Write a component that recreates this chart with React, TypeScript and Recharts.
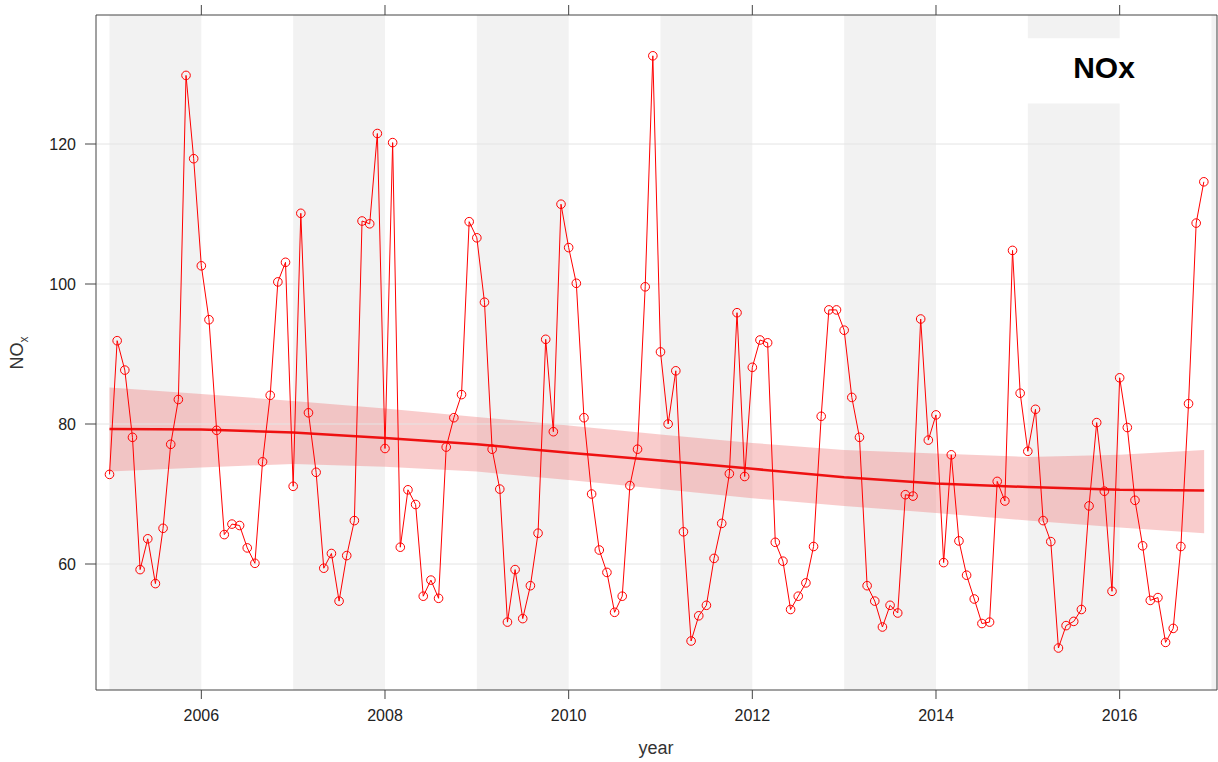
import {
  ComposedChart,
  Line,
  Area,
  XAxis,
  YAxis,
  ReferenceArea,
  ReferenceLine,
} from "recharts";

const YEARS = [2005, 2006, 2007, 2008, 2009, 2010, 2011, 2012, 2013, 2014, 2015, 2016];

// monthly NOx, Jan..Dec for each year
const NOX = [
  72.8, 91.9, 87.7, 78.1, 59.2, 63.6, 57.2, 65.1, 77.1, 83.5, 129.8, 117.9,
  102.6, 94.9, 79.1, 64.2, 65.7, 65.5, 62.3, 60.1, 74.6, 84.1, 100.3, 103.1,
  71.1, 110.1, 81.6, 73.1, 59.4, 61.5, 54.7, 61.2, 66.2, 109.0, 108.6, 121.5,
  76.5, 120.2, 62.4, 70.6, 68.5, 55.4, 57.7, 55.1, 76.7, 80.9, 84.2, 108.9,
  106.6, 97.4, 76.4, 70.7, 51.7, 59.2, 52.2, 56.9, 64.4, 92.1, 78.9, 111.4,
  105.2, 100.1, 80.9, 70.0, 62.0, 58.8, 53.1, 55.4, 71.2, 76.4, 99.6, 132.6,
  90.3, 80.0, 87.6, 64.6, 49.0, 52.6, 54.1, 60.8, 65.8, 72.9, 95.9, 72.5,
  88.1, 92.0, 91.6, 63.1, 60.4, 53.5, 55.4, 57.3, 62.5, 81.1, 96.3, 96.3,
  93.4, 83.8, 78.1, 56.9, 54.7, 51.0, 54.1, 53.0, 69.9, 69.7, 95.0, 77.7,
  81.3, 60.2, 75.6, 63.3, 58.4, 55.0, 51.5, 51.7, 71.8, 69.0, 104.8, 84.4,
  76.1, 82.1, 66.2, 63.2, 48.0, 51.2, 51.8, 53.5, 68.3, 80.2, 70.4, 56.1,
  86.6, 79.5, 69.1, 62.6, 54.8, 55.2, 48.8, 50.8, 62.5, 82.9, 108.7, 114.6,
];

// smooth trend with its confidence band
const TREND_X = [2005, 2006, 2007, 2008, 2009, 2010, 2011, 2012, 2013, 2014, 2015, 2016, 2016.92];
const TREND = [79.3, 79.2, 78.8, 78.0, 77.1, 75.9, 74.8, 73.6, 72.4, 71.5, 71.0, 70.6, 70.5];
const TREND_LOW = [73.2, 73.8, 74.3, 73.9, 73.2, 72.0, 70.7, 69.4, 68.3, 67.3, 66.2, 65.2, 64.4];
const TREND_HIGH = [85.2, 84.3, 83.3, 82.2, 81.0, 79.8, 78.5, 77.3, 76.3, 75.8, 75.3, 75.6, 76.3];

const X_TICKS = [2006, 2008, 2010, 2012, 2014, 2016];
const Y_TICKS = [60, 80, 100, 120];
const SHADED_YEARS = [2005, 2007, 2009, 2011, 2013, 2015, 2017];

const X_MIN = 2004.853;
const X_MAX = 2017.06;
const Y_MIN = 42;
const Y_MAX = 138.43;

const monthly = YEARS.flatMap((yr, i) =>
  Array.from({ length: 12 }, (_, m) => ({ t: yr + m / 12, nox: NOX[i * 12 + m] }))
);

const trend = TREND_X.map((t, i) => ({
  t,
  fit: TREND[i],
  band: [TREND_LOW[i], TREND_HIGH[i]],
}));

const FONT = "'Liberation Sans', Arial, sans-serif";
const AXIS = "#444";

export default function App() {
  return (
    <div style={{ position: "absolute", left: 0, top: 0, width: 1218, height: 762, fontFamily: FONT }}>
      <ComposedChart
        width={1218}
        height={762}
        data={monthly}
        margin={{ top: 0, right: 0, bottom: 0, left: 0 }}
      >
        <XAxis
          dataKey="t"
          type="number"
          domain={[X_MIN, X_MAX]}
          allowDataOverflow
          ticks={X_TICKS}
          height={72}
          tickSize={9}
          tickMargin={11}
          tick={{ fontSize: 16, fill: "#222", fontFamily: FONT }}
          stroke={AXIS}
          tickLine={{ stroke: AXIS }}
        />
        <XAxis
          xAxisId="top"
          orientation="top"
          dataKey="t"
          type="number"
          domain={[X_MIN, X_MAX]}
          allowDataOverflow
          ticks={X_TICKS}
          height={15}
          tickSize={10}
          tickFormatter={() => ""}
          stroke={AXIS}
          tickLine={{ stroke: AXIS }}
        />
        <YAxis
          type="number"
          domain={[Y_MIN, Y_MAX]}
          allowDataOverflow
          ticks={Y_TICKS}
          width={96}
          tickSize={11}
          tickMargin={9}
          tick={{ fontSize: 16, fill: "#222", fontFamily: FONT }}
          stroke={AXIS}
          tickLine={{ stroke: AXIS }}
        />
        <YAxis
          yAxisId="right"
          orientation="right"
          type="number"
          domain={[Y_MIN, Y_MAX]}
          allowDataOverflow
          width={1}
          tick={false}
          tickLine={false}
          stroke={AXIS}
        />

        {SHADED_YEARS.filter((y) => y !== 2015).map((y) => (
          <ReferenceArea
            key={y}
            x1={y}
            x2={Math.min(y + 1, X_MAX)}
            y1={Y_MIN}
            y2={Y_MAX}
            fill="#f2f2f2"
            fillOpacity={1}
            stroke="none"
            ifOverflow="hidden"
          />
        ))}
        <ReferenceArea x1={2015} x2={2016} y1={Y_MIN} y2={125.8} fill="#f2f2f2" fillOpacity={1} stroke="none" />
        <ReferenceArea x1={2015} x2={2016} y1={135.1} y2={Y_MAX} fill="#f2f2f2" fillOpacity={1} stroke="none" />

        {Y_TICKS.map((v) => (
          <ReferenceLine key={v} y={v} stroke="#e4e4e4" strokeWidth={1} />
        ))}

        <Area
          data={trend}
          dataKey="band"
          type="linear"
          stroke="none"
          fill="#f08080"
          fillOpacity={0.4}
          isAnimationActive={false}
        />
        <Line
          data={trend}
          dataKey="fit"
          type="linear"
          stroke="#ee1111"
          strokeWidth={2.5}
          dot={false}
          activeDot={false}
          isAnimationActive={false}
        />
        <Line
          dataKey="nox"
          type="linear"
          stroke="#ff0000"
          strokeWidth={1}
          dot={{ r: 4.3, stroke: "#ff0000", strokeWidth: 1, fill: "none" }}
          activeDot={false}
          isAnimationActive={false}
        />
      </ComposedChart>

      <div
        style={{
          position: "absolute",
          left: 1104,
          top: 68,
          transform: "translate(-50%, -50%)",
          fontSize: 30,
          fontWeight: "bold",
          lineHeight: 1,
          color: "#000",
        }}
      >
        NOx
      </div>
      <div
        style={{
          position: "absolute",
          left: 656,
          top: 748,
          transform: "translate(-50%, -50%)",
          fontSize: 18,
          lineHeight: 1,
          color: "#333",
        }}
      >
        year
      </div>
      <div
        style={{
          position: "absolute",
          left: 19,
          top: 353,
          transform: "translate(-50%, -50%) rotate(-90deg)",
          fontSize: 18,
          lineHeight: 1,
          color: "#333",
          whiteSpace: "nowrap",
        }}
      >
        NO<sub style={{ fontSize: 12 }}>x</sub>
      </div>
    </div>
  );
}
